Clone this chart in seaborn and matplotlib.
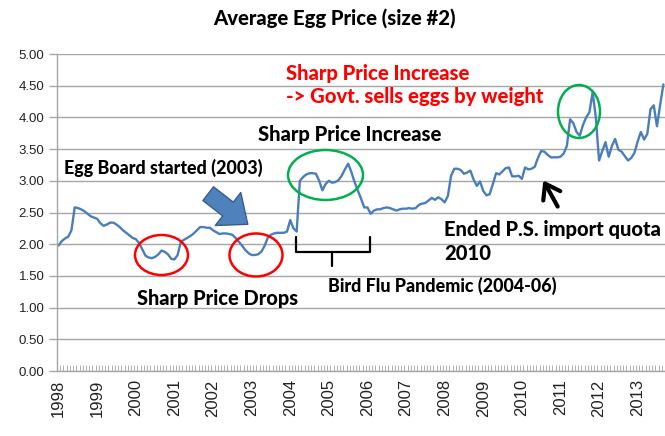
import numpy as np
import pandas as pd
import matplotlib
matplotlib.use("Agg")
import matplotlib.pyplot as plt
import seaborn as sns
from matplotlib.patches import Ellipse, FancyArrowPatch
from matplotlib.lines import Line2D

# ---------------- data (monthly, Jan 1998 - Sep 2013) ----------------
years = [str(y) for y in range(1998, 2014)]
price = [
    1.98, 2.05, 2.09, 2.12, 2.22, 2.58, 2.57, 2.55, 2.52, 2.48, 2.44, 2.42,   # 1998
    2.40, 2.33, 2.29, 2.31, 2.34, 2.34, 2.31, 2.27, 2.22, 2.18, 2.14, 2.10,   # 1999
    2.08, 2.02, 1.92, 1.82, 1.79, 1.78, 1.80, 1.84, 1.90, 1.88, 1.84, 1.77,   # 2000
    1.76, 1.83, 2.04, 2.07, 2.10, 2.13, 2.17, 2.22, 2.27, 2.27, 2.26, 2.26,   # 2001
    2.22, 2.19, 2.16, 2.17, 2.17, 2.16, 2.15, 2.10, 2.04, 1.98, 1.91, 1.86,   # 2002
    1.83, 1.83, 1.84, 1.88, 1.97, 2.10, 2.15, 2.17, 2.18, 2.18, 2.18, 2.20,   # 2003
    2.38, 2.25, 2.20, 3.00, 3.06, 3.10, 3.12, 3.12, 3.11, 3.00, 2.85, 2.95,   # 2004
    3.00, 2.97, 2.98, 3.01, 3.08, 3.18, 3.27, 3.14, 2.98, 2.85, 2.72, 2.58,   # 2005
    2.58, 2.48, 2.53, 2.55, 2.55, 2.57, 2.58, 2.57, 2.55, 2.53, 2.55, 2.56,   # 2006
    2.56, 2.57, 2.56, 2.57, 2.62, 2.64, 2.65, 2.69, 2.73, 2.70, 2.74, 2.71,   # 2007
    2.66, 2.76, 3.08, 3.19, 3.19, 3.17, 3.11, 3.13, 3.16, 3.02, 2.92, 2.99,   # 2008
    2.84, 2.77, 2.79, 2.95, 3.12, 3.10, 3.15, 3.20, 3.21, 3.07, 3.07, 3.08,   # 2009
    3.03, 3.21, 3.18, 3.19, 3.22, 3.36, 3.47, 3.46, 3.41, 3.37, 3.37, 3.37,   # 2010
    3.38, 3.43, 3.55, 3.97, 3.91, 3.77, 3.71, 3.88, 4.00, 4.08, 4.40, 4.00,   # 2011
    3.32, 3.47, 3.61, 3.38, 3.55, 3.66, 3.49, 3.46, 3.39, 3.32, 3.36, 3.44,   # 2012
    3.62, 3.77, 3.65, 3.74, 4.13, 4.19, 3.86, 4.20, 4.52,                     # 2013
]
months = list(range(len(price)))
y_ticks = [0.0, 0.5, 1.0, 1.5, 2.0, 2.5, 3.0, 3.5, 4.0, 4.5, 5.0]

title = "Average Egg Price (size #2)"
notes_red = ["Sharp Price Increase", "-> Govt. sells eggs by weight"]

# ---------------- style ----------------
sns.set_style("white")
plt.rcParams['font.family'] = ['Liberation Sans', 'DejaVu Sans']
ANN = ['Lato', 'DejaVu Sans']
WT = 'black'
GRID = "#A6A6A6"

W, H = 665, 436
fig = plt.figure(figsize=(W / 100, H / 100), dpi=100)
ax = fig.add_axes([57 / W, 1 - 371 / H, (W - 57) / W, (371 - 54) / H])

df = pd.DataFrame({"month": months, "price": price})
sns.lineplot(data=df, x="month", y="price", ax=ax, color="#4A7EBB",
             linewidth=1.7, solid_joinstyle="round")

ax.set_xlim(-0.5, len(price) - 0.5)
ax.set_ylim(0, 5)
ax.set_yticks(y_ticks)
ax.set_yticklabels([f"{v:.2f}" for v in y_ticks])
ax.yaxis.grid(True, color=GRID, linewidth=1)
ax.xaxis.grid(False)
ax.set_xticks(range(0, len(price), 12))
ax.set_xticklabels(years, rotation=90)
ax.set_xticks(np.arange(-0.5, len(price), 1), minor=True)
ax.tick_params(axis='x', which='major', bottom=True, length=0, pad=6,
               labelsize=12, labelcolor="#222222")
ax.tick_params(axis='x', which='minor', bottom=True, length=4, width=0.6,
               direction='in', color=GRID)
ax.tick_params(axis='y', left=True, length=6, width=1, color=GRID,
               labelsize=9.5, labelcolor="#222222", pad=3)
ax.set_xlabel("")
ax.set_ylabel("")
for s in ["top", "right"]:
    ax.spines[s].set_visible(False)
for s in ["left", "bottom"]:
    ax.spines[s].set_color(GRID)
    ax.spines[s].set_linewidth(1)


def P(x, y):
    return (x / W, 1 - y / H)


def note(x, y, s, size, color='black', ha='left'):
    fig.text(*P(x, y), s, ha=ha, va='center', fontsize=size,
             fontweight=WT, color=color, family=ANN)


# ---------------- texts ----------------
note(334, 18, title, 14.6, ha='center')
note(286, 73, notes_red[0], 14.6, color='#FF0000')
note(286, 97, notes_red[1], 14.6, color='#FF0000')
note(258, 134, "Sharp Price Increase", 14.6)
note(64, 168, "Egg Board started (2003)", 12.9)
note(137, 298, "Sharp Price Drops", 14.4)
note(328, 286, "Bird Flu Pandemic (2004-06)", 12.9)
note(444, 229, "Ended P.S. import quota", 14.5)
note(444, 254, "2010", 14.5)

# ---------------- ellipses ----------------
def ell(cx, cy, w, h, color):
    e = Ellipse(P(cx, cy), w / W, h / H, transform=fig.transFigure,
                fill=False, edgecolor=color, linewidth=1.8)
    fig.add_artist(e)


ell(161.5, 255, 53, 40, '#FF0000')
ell(256, 255, 53, 43, '#FF0000')
ell(325.5, 175, 75, 50, '#00B050')
ell(579, 111.5, 42, 53, '#00B050')

# ---------------- brace ----------------
for xs, ys in [([296, 296, 370, 370], [237, 252, 252, 237]),
               ([332, 332], [252, 266])]:
    fig.add_artist(Line2D([x / W for x in xs], [1 - y / H for y in ys],
                          transform=fig.transFigure, color='black', linewidth=1.6))

# ---------------- arrows ----------------
blue = FancyArrowPatch(P(206, 192), P(250, 226), transform=fig.transFigure,
                       arrowstyle="simple,head_width=3.0,head_length=1.8,tail_width=1.25",
                       mutation_scale=10, facecolor='#4F81BD', edgecolor='#385D8A',
                       linewidth=1)
fig.add_artist(blue)
black = FancyArrowPatch(P(559, 209), P(542, 178), transform=fig.transFigure,
                        arrowstyle="->,head_length=0.5,head_width=0.35",
                        mutation_scale=20, color='black', linewidth=3)
fig.add_artist(black)

fig.savefig("out.png", dpi=100)
